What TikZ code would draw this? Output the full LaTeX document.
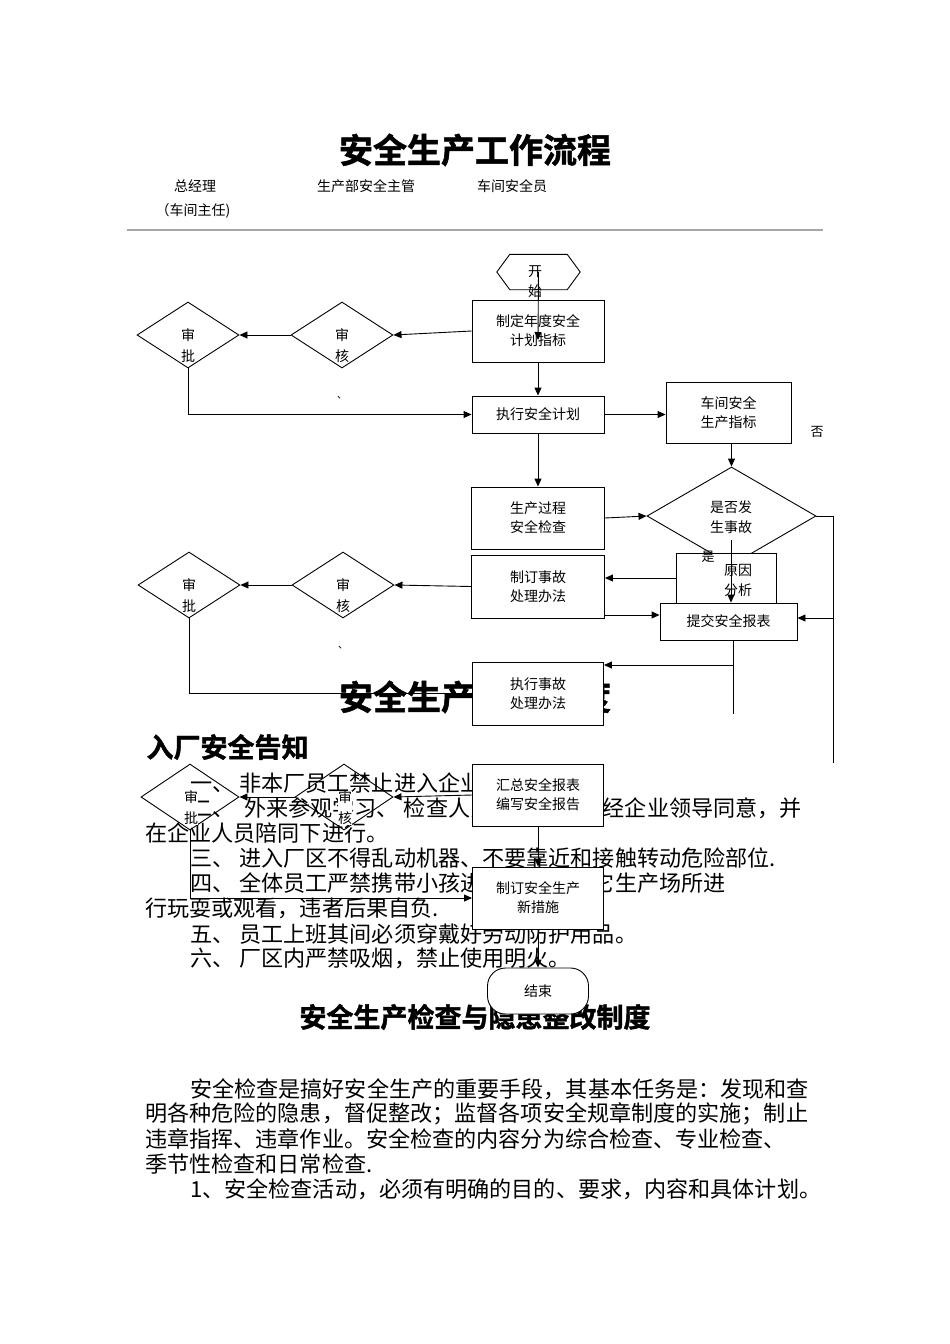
\documentclass[tikz,border=0pt]{standalone}
\usepackage{fontspec}
\setmainfont{Noto Sans CJK SC}
\newfontfamily\cjkb[FakeBold=1.5]{Noto Sans CJK SC Bold}
\usetikzlibrary{shapes.geometric,arrows.meta}
\begin{document}
\begin{tikzpicture}[x=1pt,y=-1pt,
  box/.style={draw,fill=white,line width=0.9pt,align=center,font=\fontsize{14}{19}\selectfont,inner sep=0},
  dia/.style={draw,diamond,line width=0.9pt,inner sep=0,minimum width=#1,minimum height=66,shape aspect=1.55},
  dlab/.style={align=center,font=\fontsize{14}{21}\selectfont,fill=white,inner sep=0},
  body/.style={anchor=west,font=\fontsize{22.1}{23}\selectfont,inner sep=0},
  arr/.style={line width=0.9pt,-{Triangle[length=8pt,width=7pt]}},
  ln/.style={line width=0.9pt}]
\useasboundingbox (0,0) rectangle (950,1344);
% background document text
\node (t1) at (475,150) {\cjkb\fontsize{34}{34}\selectfont 安全生产工作流程};
\node (h1) at (195,186) {\fontsize{14}{14}\selectfont 总经理};
\node (h2) at (193,211) {\fontsize{14}{14}\selectfont （车间主任)};
\node (h3) at (366,186) {\fontsize{14}{14}\selectfont 生产部安全主管};
\node (h4) at (512,186) {\fontsize{14}{14}\selectfont 车间安全员};
\draw[line width=2pt,gray!70] (127,230) -- (823,230);
\node (t2) at (475,697) {\cjkb\fontsize{34}{34}\selectfont 安全生产管理制度};
\node[anchor=west] (t3) at (143,747) {\cjkb\fontsize{27}{27}\selectfont 入厂安全告知};
\node[body] (b1) at (190,783) {一、\ 非本厂员工禁止进入企业。};
\node[body] (b2) at (190,808) {二、\ \ 外来参观学习、\ 检查人员进入厂区须经企业领导同意，并};
\node[body] (b3) at (145,833) {在企业人员陪同下进行。};
\node[body] (b4) at (190,858) {三、\ 进入厂区不得乱动机器、不要靠近和接触转动危险部位.};
\node[body] (b5) at (190,883) {四、\ 全体员工严禁携带小孩进入车间及其它生产场所进};
\node[body] (b6) at (145,908) {行玩耍或观看，违者后果自负.};
\node[body] (b7) at (190,934) {五、\ 员工上班其间必须穿戴好劳动防护用品。};
\node[body] (b8) at (190,958) {六、\ 厂区内严禁吸烟，禁止使用明火。};
\node (t4) at (475,1017) {\cjkb\fontsize{27}{27}\selectfont 安全生产检查与隐患整改制度};
\node[body] (p1) at (190,1089) {安全检查是搞好安全生产的重要手段，其基本任务是：发现和查};
\node[body] (p2) at (145,1114) {明各种危险的隐患，督促整改；监督各项安全规章制度的实施；制止};
\node[body] (p3) at (145,1139) {违章指挥、违章作业。安全检查的内容分为综合检查、专业检查、};
\node[body] (p4) at (145,1164) {季节性检查和日常检查.};
\node[body] (p5) at (190,1189) {1、安全检查活动，必须有明确的目的、要求，内容和具体计划。};
% flowchart nodes
\node[minimum width=83,minimum height=35,inner sep=0] (start) at (538.5,272) {};
\draw[ln] (start.west) -- ([xshift=13]start.north west) -- ([xshift=-13]start.north east) -- (start.east) -- ([xshift=-13]start.south east) -- ([xshift=13]start.south west) -- cycle;
\node[font=\fontsize{14}{20}\selectfont,align=center] (startl) at (535,282) {开\\始};
\node[box,minimum width=132,minimum height=62] (plan) at (538,331) {制定年度安全\\计划指标};
\node[box,minimum width=132,minimum height=37] (exec) at (538,414.5) {执行安全计划};
\node[box,minimum width=125,minimum height=61] (ws) at (728.5,412.5) {车间安全\\生产指标};
\node[box,minimum width=133,minimum height=62] (chk) at (538,518) {生产过程\\安全检查};
\node[draw,diamond,line width=0.9pt,inner sep=0,minimum width=169,minimum height=98,shape aspect=1.72] (acc) at (731.5,516) {};
\node[font=\fontsize{14}{20}\selectfont,align=center] (accl) at (731,517) {是否发\\生事故};
\node[box,minimum width=100,minimum height=50] (cause) at (726,578) {};
\node[font=\fontsize{14}{20}\selectfont,align=center] (causel) at (738,580) {原因\\分析};
\node[font=\fontsize{13}{13}\selectfont] (yes) at (708,557) {是};
\node[font=\fontsize{13}{13}\selectfont] (no) at (817,432) {否};
\node[box,minimum width=133,minimum height=63] (rule) at (538,586.5) {制订事故\\处理办法};
\node[box,minimum width=137,minimum height=37] (rep) at (728.5,621.5) {提交安全报表};
\node[box,minimum width=131,minimum height=63] (doacc) at (538,693.5) {执行事故\\处理办法};
\node[box,minimum width=131,minimum height=62] (sum) at (538,795) {汇总安全报表\\编写安全报告};
\node[box,minimum width=131,minimum height=62] (new) at (538,898) {制订安全生产\\新措施};
\node[draw,fill=white,line width=0.9pt,rounded corners=18,minimum width=101,minimum height=46,font=\fontsize{14}{14}\selectfont] (end) at (538,991) {结束};
\foreach \n/\x/\y/\w in {a1/342/335/102,p1d/188/335/102,a2/343/585/102,p2d/189/585/102,a3/344/797/98,p3d/190/797/98}{
  \node[dia=\w] (\n) at (\x,\y) {};}
\foreach \n/\x/\y/\t in {a1l/342/346/审\\核,p1l/188/346/审\\批,a2l/343/596/审\\核,p2l/189/596/审\\批,a3l/345/808/审\\核,p3l/191/808/审\\批}{
  \node[dlab] (\n) at (\x,\y) {\t};}
\node (c1) at (342,398) {、};
\node (c2) at (343,648) {、};
% connectors
\draw[arr] (start.center) -- ([yshift=-9]plan.center);
\draw[arr] (plan.west) -- (a1.east);
\draw[arr] (a1.west) -- (p1d.east);
\draw[arr] (p1d.south) |- (exec.west);
\draw[arr] (plan.south) -- (exec.north);
\draw[arr] (exec.east) -- (ws.west |- exec.east);
\draw[arr] (exec.south) -- (chk.north);
\draw[arr] (ws.south -| acc.north) -- (acc.north);
\draw[arr] (chk.east) -- (acc.west);
\draw[arr] (731,540) -- (rep.north -| 731,0);
\draw[arr] (cause.west |- 0,578) -- (rule.east |- 0,578);
\draw[arr] (rule.east |- 0,615) -- (rep.west |- 0,615);
\draw[arr] (rule.west) -- (a2.east);
\draw[arr] (a2.west) -- (p2d.east);
\draw[ln] (p2d.south) |- (doacc.west);
\coordinate (rx) at (833,763);
\draw[ln] (acc.east) -- (833,516) -- (rx);
\draw[arr] (833,618) -- (rep.east |- 0,618);
\coordinate (ry) at (733,714);
\draw[ln] (rep.south -| 733,0) -- (ry);
\draw[arr] (733,665) -- (doacc.east |- 0,665);
\draw[arr] (sum.west) -- (a3.east);
\draw[arr] (a3.west) -- (p3d.east);
\draw[arr] (p3d.south) |- (new.west);
\draw[arr] (sum.south) -- (new.north);
\draw[arr] (new.south) -- (end.north);
\end{tikzpicture}
\end{document}
